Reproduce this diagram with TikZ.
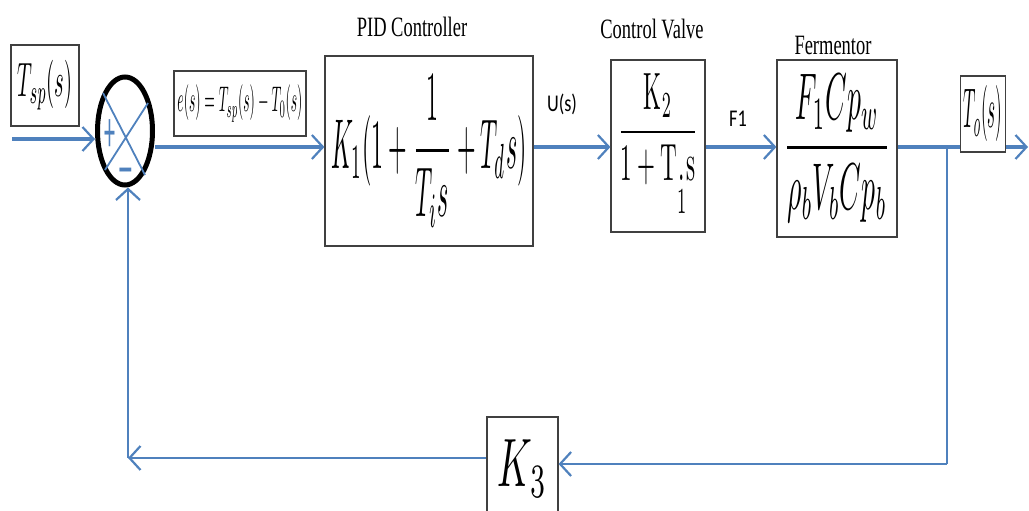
\documentclass[tikz,border=0pt]{standalone}
\usepackage{amsmath}
\usepackage{graphicx}
\usepackage{fontspec}
\usetikzlibrary{arrows.meta,shapes.geometric}
\newfontfamily\labserif[FakeStretch=0.66]{Liberation Serif}
\newfontfamily\labsans[FakeStretch=0.76]{Carlito}
\definecolor{sigblue}{HTML}{4F81BD}
\newcommand{\fitmath}[3]{\resizebox*{#1pt}{#2pt}{$\displaystyle #3$}}
\tikzset{
  blknode/.style={draw=black!75,line width=1.2pt,fill=white,inner sep=0pt},
  sumnode/.style={ellipse,draw=black,line width=5pt,minimum width=55pt,minimum height=108pt,inner sep=0pt},
  sigedge/.style={-{Straight Barb[length=11pt,width=24pt,line width=2.2pt]},line width=3.2pt,sigblue},
  fbedge/.style={sigedge,line width=2.6pt},
  titlenode/.style={font=\labserif\fontsize{28}{30}\selectfont,anchor=base,inner sep=0pt},
  signode/.style={font=\labsans\fontsize{24}{26}\selectfont,anchor=base,inner sep=0pt},
}

\begin{document}
\begin{tikzpicture}[x=1pt,y=-1pt]
  \useasboundingbox (0,0) rectangle (1029,511);
  \clip (0,0) rectangle (1029,511);
  % forward path
  \node[blknode,minimum width=68pt,minimum height=81pt] (nTsp) at (45,85.5) {\fitmath{55}{50}{T_{sp}(s)}};
  \node[sumnode] (nSum) at (125,131) {};
  \node[blknode,minimum width=132pt,minimum height=65pt] (nErr) at (240,103.5) {\fitmath{125}{37}{e(s)=T_{sp}(s)-T_0(s)}};
  \node[blknode,minimum width=208pt,minimum height=190pt] (nPid) at (429,151) {\fitmath{195}{152}{K_1(1+\frac{1}{T_is}+T_ds)}};
  \node[blknode,minimum width=94pt,minimum height=172pt] (nCv) at (658,146) {\fitmath{80}{145}{\frac{\mathrm{K}_2}{1+\mathrm{T}\underset{1}{.}\mathrm{s}}}};
  \node[blknode,minimum width=120pt,minimum height=177pt] (nFer) at (837,148.5) {\fitmath{106}{148}{\frac{F_1Cp_w}{\rho_bV_bCp_b}}};
  \node[blknode,minimum width=71pt,minimum height=103pt] (nK3) at (522.5,468.5) {\fitmath{49}{57}{K_3}};
  \coordinate (lvl) at (0,147);
  \coordinate (nIn) at (12,139);
  \coordinate (nOut) at (1028,147);
  \coordinate (nBr) at (947,147);
  \coordinate (nFb) at (947,464);
  \coordinate (nCor) at (128,458);
  % summing junction marks
  \draw[sigblue,line width=1.8pt] (103,93) -- (145,175) (148,103) -- (105,170);
  \node[sigblue,inner sep=0pt] (nPlus) at (110,136) {\scalebox{1}[2]{\labsans\fontsize{29}{29}\selectfont +}};
  \node[sigblue,inner sep=0pt] (nMinus) at (126,175) {\labsans\bfseries\fontsize{44}{44}\selectfont\textendash};
  % signals
  \draw[sigedge] (nIn) -- (nIn -| nSum.west);
  \draw[sigedge] (nSum.east |- lvl) -- (nPid.west |- lvl);
  \draw[sigedge] (nPid.east |- lvl) -- (nCv.west |- lvl);
  \draw[sigedge] (nCv.east |- lvl) -- (nFer.west |- lvl);
  \draw[sigedge] (nFer.east |- lvl) -- (nOut);
  \node[blknode,minimum width=45pt,minimum height=76pt] (nTo) at (983,114) {\fitmath{39}{56}{T_o(s)}};
  % feedback
  \draw[fbedge,-] (nBr) -- (nFb);
  \draw[fbedge] (nFb) -- (nK3.east |- nFb);
  \draw[fbedge] (nK3.west |- nCor) -- (nCor);
  \draw[fbedge] (nCor) -- (nCor |- nSum.south);
  % labels
  \node[titlenode] (tPid) at (412,37) {PID Controller};
  \node[titlenode] (tCv) at (652,39) {Control Valve};
  \node[titlenode] (tFer) at (833,55) {Fermentor};
  \node[signode] (tU) at (562,112) {U(s)};
  \node[signode] (tF) at (738,127) {F1};
\end{tikzpicture}
\end{document}
